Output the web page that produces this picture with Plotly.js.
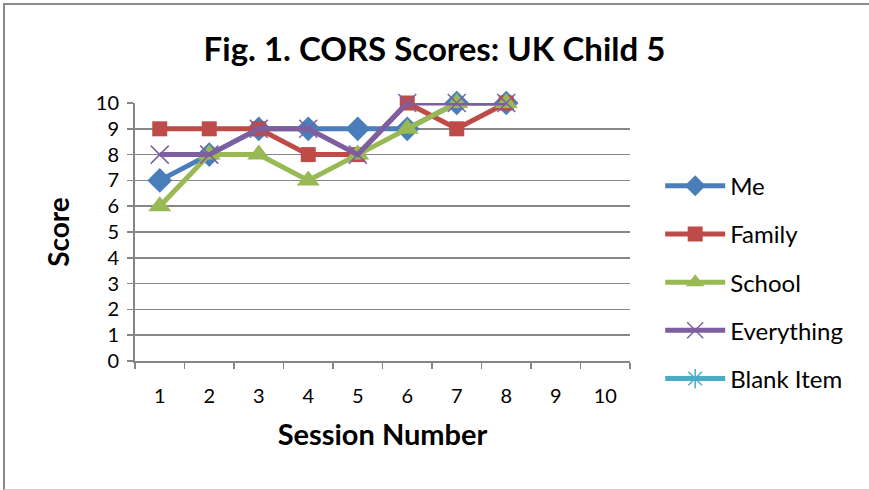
<!DOCTYPE html>
<html>
<head>
<meta charset="utf-8">
<script src="https://cdn.plot.ly/plotly-3.0.1.min.js"></script>
<style>
  html, body { margin: 0; padding: 0; background: #fff; }
  #frame { position: absolute; left: 0; top: 0; width: 869px; height: 490px; }
  #border { position: absolute; left: 3px; top: 3px; width: 880px; height: 484px;
            border-left: 2px solid #8c8c8c; border-top: 2px solid #8c8c8c; border-bottom: 1px solid #d0d0d0;
            pointer-events: none; }
  #chart { position: absolute; left: 0; top: 0; width: 869px; height: 490px; }
</style>
</head>
<body>
<div id="frame">
  <div id="chart"></div>
  <div id="border"></div>
</div>
<script>
const sessions = [1, 2, 3, 4, 5, 6, 7, 8, 9, 10];
const me         = [7, 8, 9, 9, 9, 9, 10, 10, null, null];
const family     = [9, 9, 9, 8, 8, 10, 9, 10, null, null];
const school     = [6, 8, 8, 7, 8, 9, 10, 10, null, null];
const everything = [8, 8, 9, 9, 8, 10, 10, 10, null, null];
const blankItem  = [null, null, null, null, null, null, null, null, null, null];
const seriesNames = ['Me', 'Family', 'School', 'Everything', 'Blank Item'];
const yTicks = [0, 1, 2, 3, 4, 5, 6, 7, 8, 9, 10];

const FONT = 'Lato, "Open Sans", sans-serif';

function tr(name, y, color, symbol, size, lw) {
  return {
    type: 'scatter', mode: 'lines+markers', name: name, x: sessions, y: y,
    legendgroup: name, cliponaxis: false,
    line: { color: color, width: 5 },
    marker: { symbol: symbol, size: size, color: color, line: { color: color, width: lw } },
    connectgaps: false, hoverinfo: 'skip'
  };
}

const data = [
  tr(seriesNames[0], me, '#4a7ebb', 'diamond', 19, 0),
  tr(seriesNames[1], family, '#be4b48', 'square', 15, 0),
  tr(seriesNames[2], school, '#98b954', 'triangle-up', 20, 0),
  tr(seriesNames[3], everything, '#7d5fa0', 'x-thin-open', 18, 1.5),
  tr(seriesNames[4], blankItem, '#4bacc6', 'asterisk-open', 16, 1.5)
];

const layout = {
  width: 869, height: 490,
  margin: { l: 135, r: 239, t: 103, b: 129 },
  paper_bgcolor: '#ffffff', plot_bgcolor: '#ffffff',
  font: { family: FONT, color: '#000000', size: 20 },
  title: {
    text: '<b>Fig. 1. CORS Scores: UK Child 5</b>',
    font: { family: FONT, size: 33, color: '#000' },
    x: 0.5, xref: 'container', xanchor: 'center',
    y: 0.9, yref: 'container', yanchor: 'middle'
  },
  xaxis: {
    range: [0.5, 10.5], fixedrange: true,
    tickmode: 'array', tickvals: sessions, ticktext: sessions.map(String),
    ticks: '', showgrid: false, zeroline: false,
    showline: true, linecolor: '#868686', linewidth: 2,
    tickfont: { family: FONT, size: 20 },
    ticklabelstandoff: 16,
    minor: { tickmode: 'linear', tick0: 0.5, dtick: 1, ticks: 'outside', ticklen: 6, tickwidth: 1.5, tickcolor: '#868686', showgrid: false },
    title: { text: '<b>Session Number</b>', font: { family: FONT, size: 29 }, standoff: 19 }
  },
  yaxis: {
    range: [0, 10], fixedrange: true,
    tickmode: 'array', tickvals: yTicks,
    ticks: 'outside', ticklen: 6, tickwidth: 1.5, tickcolor: '#868686',
    showgrid: true, gridcolor: '#878787', gridwidth: 1.5,
    zeroline: false,
    showline: true, linecolor: '#868686', linewidth: 2,
    tickfont: { family: FONT, size: 20 },
    ticklabelstandoff: 4,
    title: { text: '<b>Score</b>', font: { family: FONT, size: 28 }, standoff: 18 }
  },
  showlegend: true,
  legend: {
    x: 1.061, xref: 'paper', xanchor: 'left',
    y: 0.765, yanchor: 'top',
    font: { family: FONT, size: 24, color: '#000' },
    tracegroupgap: 14, itemwidth: 60,
    bgcolor: 'rgba(0,0,0,0)'
  }
};

Plotly.newPlot('chart', data, layout, { staticPlot: true, displayModeBar: false });
</script>
</body>
</html>
